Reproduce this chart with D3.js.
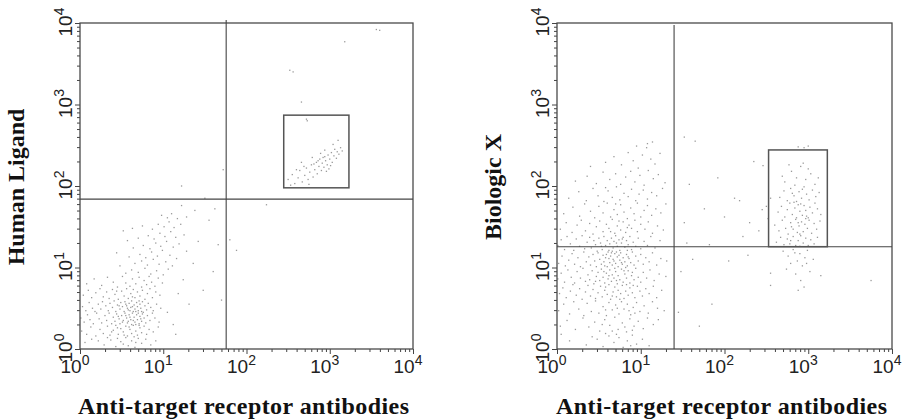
<!DOCTYPE html>
<html>
<head>
<meta charset="utf-8">
<script src="https://cdn.jsdelivr.net/npm/d3@7"></script>
<style>
  body { margin: 0; background: #fff; }
  svg { display: block; }
</style>
</head>
<body>
<svg width="907" height="420"></svg>
<script>
// events as [log10 x, log10 y]

var leftCluster = [
  [0.06,0.08],[0.14,0.12],[0.29,0.05],[0.37,0.11],[0.43,0.03],[0.49,0.09],[0.55,0.14],[0.58,0.04],[0.62,0.10],[0.66,0.02],
  [0.70,0.13],[0.74,0.07],[0.79,0.12],[0.85,0.05],[0.91,0.10],[0.52,0.06],[0.45,0.13],[0.67,0.08],[0.33,0.14],[0.22,0.10],
  [0.02,0.22],[0.08,0.18],[0.13,0.27],[0.19,0.16],[0.24,0.24],[0.28,0.19],[0.33,0.28],[0.36,0.17],[0.40,0.23],[0.43,0.29],
  [0.46,0.18],[0.49,0.25],[0.52,0.21],[0.55,0.28],[0.57,0.16],[0.60,0.24],[0.62,0.19],[0.64,0.29],[0.67,0.22],[0.69,0.17],
  [0.72,0.26],[0.74,0.20],[0.77,0.28],[0.80,0.18],[0.83,0.24],[0.88,0.21],[0.94,0.27],[0.59,0.27],[0.53,0.17],[0.45,0.26],
  [0.65,0.15],[0.71,0.29],[0.38,0.21],
  [0.01,0.38],[0.05,0.33],[0.09,0.42],[0.12,0.36],[0.16,0.31],[0.20,0.44],[0.23,0.37],[0.26,0.32],[0.30,0.41],[0.32,0.35],
  [0.35,0.44],[0.38,0.31],[0.40,0.39],[0.42,0.34],[0.44,0.43],[0.47,0.37],[0.48,0.31],[0.50,0.41],[0.52,0.35],[0.54,0.44],
  [0.56,0.38],[0.57,0.32],[0.59,0.42],[0.61,0.36],[0.62,0.30],[0.63,0.44],[0.65,0.39],[0.66,0.33],[0.68,0.42],[0.69,0.36],
  [0.71,0.31],[0.72,0.40],[0.74,0.34],[0.75,0.43],[0.77,0.38],[0.79,0.32],[0.81,0.41],[0.84,0.35],[0.87,0.44],[0.90,0.38],
  [0.95,0.33],[0.60,0.39],[0.64,0.35],[0.55,0.41],[0.70,0.44],[0.58,0.34],[0.67,0.30],[0.46,0.40],[0.73,0.37],[0.51,0.33],
  [0.03,0.52],[0.07,0.47],[0.11,0.57],[0.15,0.50],[0.18,0.46],[0.22,0.55],[0.25,0.49],[0.27,0.58],[0.31,0.53],[0.34,0.47],
  [0.36,0.56],[0.39,0.51],[0.41,0.59],[0.43,0.46],[0.45,0.54],[0.48,0.49],[0.49,0.57],[0.51,0.52],[0.53,0.46],[0.54,0.58],
  [0.56,0.53],[0.58,0.48],[0.59,0.56],[0.61,0.51],[0.62,0.59],[0.64,0.46],[0.65,0.54],[0.66,0.49],[0.68,0.57],[0.69,0.52],
  [0.70,0.47],[0.72,0.55],[0.73,0.50],[0.75,0.58],[0.76,0.45],[0.78,0.53],[0.80,0.48],[0.82,0.56],[0.85,0.51],[0.88,0.47],
  [0.92,0.55],[0.97,0.50],[0.63,0.52],[0.57,0.50],[0.67,0.46],[0.60,0.47],[0.71,0.59],[0.55,0.55],[0.74,0.46],[0.47,0.53],
  [0.04,0.66],[0.10,0.72],[0.14,0.63],[0.19,0.69],[0.24,0.74],[0.28,0.64],[0.32,0.70],[0.35,0.62],[0.39,0.73],[0.42,0.67],
  [0.46,0.61],[0.50,0.71],[0.53,0.65],[0.56,0.74],[0.58,0.62],[0.61,0.68],[0.64,0.73],[0.66,0.63],[0.69,0.70],[0.72,0.65],
  [0.75,0.72],[0.78,0.61],[0.81,0.68],[0.84,0.74],[0.87,0.63],[0.91,0.70],[0.96,0.66],[0.63,0.64],[0.44,0.71],
  [0.08,0.80],[0.17,0.86],[0.26,0.78],[0.33,0.88],[0.40,0.82],[0.45,0.76],[0.51,0.89],[0.55,0.81],[0.60,0.77],[0.63,0.86],
  [0.67,0.80],[0.71,0.88],[0.74,0.76],[0.77,0.84],[0.80,0.79],[0.83,0.89],[0.86,0.82],[0.90,0.77],[0.94,0.87],[0.99,0.81],
  [0.55,0.93],[0.62,0.97],[0.70,0.94],[0.78,0.99],[0.85,0.92],[0.92,0.96],[1.00,0.91],[1.06,0.98],[0.48,1.02],[0.66,1.05],
  [0.74,1.08],[0.81,1.03],[0.88,1.10],[0.95,1.04],[1.03,1.07],[1.11,1.02],[0.59,1.13],[0.72,1.16],[0.79,1.12],[0.86,1.19],
  [0.93,1.14],[0.99,1.21],[1.08,1.15],[1.16,1.11],[0.44,1.18],[0.64,1.24],[0.76,1.27],[0.84,1.23],[0.91,1.30],[0.97,1.26],
  [1.04,1.32],[1.12,1.25],[1.19,1.29],[0.57,1.33],[0.70,1.36],[0.82,1.39],[0.89,1.35],[0.96,1.42],[1.02,1.38],[1.09,1.44],
  [1.15,1.37],[0.52,1.45],[0.63,1.48],[0.87,1.47],[0.94,1.53],[1.01,1.50],[1.07,1.56],[1.13,1.49],[1.21,1.53],[1.05,1.61],
  [0.98,1.64],[1.10,1.66],[0.75,1.51],[1.17,1.60],[1.25,1.40],[1.28,1.20]
];

var leftGated = [
  [2.50,2.08],[2.55,2.14],[2.58,2.03],[2.62,2.10],[2.64,2.19],[2.67,2.05],[2.70,2.13],[2.72,2.22],[2.74,2.08],[2.76,2.17],
  [2.78,2.26],[2.80,2.11],[2.82,2.20],[2.84,2.29],[2.85,2.15],[2.87,2.24],[2.88,2.33],[2.90,2.19],[2.91,2.28],[2.93,2.23],
  [2.94,2.36],[2.95,2.31],[2.97,2.26],[2.98,2.38],[2.99,2.21],[3.00,2.33],[3.02,2.41],[3.03,2.29],[3.05,2.37],[3.06,2.45],
  [3.08,2.34],[3.09,2.42],[3.11,2.39],[3.13,2.47],[3.15,2.43],[2.86,2.31],[2.92,2.35],[2.96,2.18],[3.01,2.25],[2.81,2.27],
  [2.69,2.24],[2.60,2.20],[2.53,2.01],[3.04,2.51],[3.10,2.56],[2.89,2.40],[2.75,2.02],[2.66,2.29],[2.79,2.35],[2.94,2.44],
  [2.73,2.80]
];

var leftScatter = [
  [1.05,0.45],[1.12,0.30],[1.18,0.68],[1.24,0.85],[1.31,0.55],[1.36,1.05],[1.42,1.32],[1.48,0.72],[1.55,1.58],[1.60,0.95],
  [1.66,1.28],[1.38,1.70],[1.22,1.76],[1.70,0.60],[1.15,0.18],[1.28,1.62],[1.50,1.85],[1.62,1.72],
  [1.22,2.00],[1.72,2.20],[1.80,1.34],[1.88,1.21],[2.24,1.77],[2.52,3.42],[2.56,3.40],[2.66,3.03],[2.72,2.82],[3.18,3.77],
  [3.56,3.92],[3.60,3.91]
];

var rightCluster = [
  [0.35,0.05],[0.48,0.12],[0.55,0.03],[0.62,0.16],[0.68,0.08],[0.74,0.14],[0.79,0.02],[0.84,0.10],[0.90,0.17],[0.95,0.06],
  [1.02,0.12],[1.10,0.04],[0.58,0.19],[0.71,0.18],[0.88,0.04],[0.42,0.15],[0.15,0.10],[0.05,0.18],
  [0.04,0.28],[0.12,0.35],[0.22,0.24],[0.31,0.38],[0.38,0.27],[0.45,0.33],[0.51,0.22],[0.57,0.36],[0.63,0.29],[0.69,0.39],
  [0.73,0.24],[0.78,0.32],[0.83,0.21],[0.87,0.37],[0.92,0.28],[0.97,0.34],[1.03,0.25],[1.08,0.38],[1.15,0.30],[0.81,0.27],
  [0.66,0.22],[0.54,0.30],[0.90,0.23],[1.21,0.36],
  [0.02,0.47],[0.08,0.55],[0.15,0.43],[0.20,0.58],[0.26,0.49],[0.32,0.41],[0.36,0.56],[0.41,0.46],[0.46,0.59],[0.50,0.44],
  [0.55,0.52],[0.59,0.41],[0.62,0.57],[0.66,0.48],[0.70,0.54],[0.74,0.43],[0.77,0.58],[0.80,0.49],[0.84,0.55],[0.88,0.42],
  [0.91,0.51],[0.95,0.57],[0.99,0.46],[1.04,0.53],[1.09,0.44],[1.14,0.58],[1.20,0.50],[1.28,0.47],[0.72,0.50],[0.86,0.47],
  [0.93,0.44],[0.58,0.48],
  [0.03,0.68],[0.07,0.75],[0.11,0.63],[0.16,0.71],[0.19,0.79],[0.23,0.66],[0.27,0.74],[0.30,0.61],[0.34,0.70],[0.37,0.78],
  [0.40,0.65],[0.43,0.73],[0.46,0.62],[0.49,0.69],[0.52,0.77],[0.54,0.64],[0.57,0.72],[0.60,0.67],[0.62,0.79],[0.64,0.61],
  [0.67,0.70],[0.69,0.76],[0.71,0.64],[0.73,0.72],[0.76,0.68],[0.78,0.78],[0.80,0.62],[0.82,0.71],[0.85,0.66],[0.87,0.75],
  [0.90,0.69],[0.93,0.63],[0.96,0.77],[0.99,0.71],[1.02,0.65],[1.06,0.74],[1.10,0.68],[1.15,0.77],[1.19,0.63],[1.25,0.72],
  [0.58,0.76],[0.75,0.61],[0.83,0.79],[0.66,0.65],[0.91,0.78],
  [0.01,0.86],[0.05,0.93],[0.09,0.82],[0.13,0.97],[0.17,0.88],[0.21,0.81],[0.24,0.95],[0.28,0.87],[0.31,0.99],[0.34,0.83],
  [0.37,0.91],[0.39,0.85],[0.42,0.96],[0.44,0.80],[0.47,0.89],[0.49,0.94],[0.51,0.84],[0.53,0.98],[0.55,0.88],[0.57,0.81],
  [0.59,0.93],[0.61,0.86],[0.63,0.97],[0.65,0.83],[0.66,0.91],[0.68,0.87],[0.70,0.95],[0.72,0.80],[0.73,0.90],[0.75,0.85],
  [0.77,0.98],[0.79,0.82],[0.81,0.92],[0.83,0.87],[0.85,0.96],[0.87,0.81],[0.89,0.90],[0.92,0.85],[0.94,0.99],[0.97,0.88],
  [1.00,0.82],[1.03,0.94],[1.07,0.87],[1.11,0.97],[1.16,0.84],[1.22,0.92],[1.30,0.89],[0.62,0.90],[0.71,0.84],[0.80,0.96],
  [0.56,0.95],[0.46,0.83],[0.90,0.94],[0.69,0.99],
  [0.02,1.05],[0.06,1.14],[0.10,1.02],[0.14,1.09],[0.18,1.17],[0.21,1.04],[0.25,1.12],[0.28,1.01],[0.32,1.19],[0.35,1.07],
  [0.38,1.13],[0.40,1.03],[0.43,1.16],[0.45,1.08],[0.47,1.01],[0.49,1.18],[0.51,1.10],[0.53,1.04],[0.55,1.15],[0.56,1.07],
  [0.58,1.12],[0.60,1.01],[0.61,1.19],[0.63,1.06],[0.64,1.14],[0.66,1.03],[0.67,1.10],[0.69,1.17],[0.70,1.05],[0.72,1.13],
  [0.73,1.01],[0.75,1.09],[0.76,1.18],[0.78,1.04],[0.79,1.12],[0.81,1.07],[0.83,1.16],[0.84,1.02],[0.86,1.11],[0.88,1.06],
  [0.90,1.19],[0.92,1.03],[0.94,1.14],[0.97,1.08],[1.00,1.16],[1.03,1.04],[1.06,1.12],[1.10,1.07],[1.14,1.18],[1.19,1.03],
  [1.24,1.11],[1.31,1.08],[0.65,1.18],[0.74,1.15],[0.57,1.02],[0.82,1.00],[0.68,1.08],[0.62,1.11],[0.77,1.06],[0.71,1.19],
  [0.59,1.16],[0.85,1.13],
  [0.01,1.27],[0.05,1.34],[0.09,1.22],[0.12,1.38],[0.16,1.29],[0.20,1.21],[0.23,1.35],[0.27,1.26],[0.30,1.39],[0.33,1.23],
  [0.36,1.31],[0.39,1.37],[0.41,1.24],[0.44,1.33],[0.46,1.28],[0.48,1.20],[0.50,1.36],[0.52,1.30],[0.54,1.22],[0.56,1.38],
  [0.58,1.27],[0.60,1.33],[0.62,1.21],[0.63,1.29],[0.65,1.36],[0.67,1.24],[0.68,1.32],[0.70,1.39],[0.72,1.26],[0.74,1.34],
  [0.75,1.21],[0.77,1.30],[0.79,1.37],[0.81,1.25],[0.83,1.33],[0.85,1.28],[0.87,1.38],[0.89,1.22],[0.91,1.31],[0.94,1.26],
  [0.97,1.36],[1.00,1.23],[1.04,1.32],[1.08,1.27],[1.12,1.38],[1.17,1.24],[1.23,1.33],[0.71,1.30],[0.66,1.20],[0.78,1.35],
  [0.53,1.26],[0.84,1.21],
  [0.04,1.47],[0.11,1.55],[0.18,1.43],[0.24,1.52],[0.29,1.58],[0.34,1.45],[0.39,1.54],[0.43,1.41],[0.47,1.50],[0.51,1.57],
  [0.55,1.44],[0.59,1.53],[0.62,1.48],[0.66,1.59],[0.69,1.42],[0.72,1.51],[0.76,1.46],[0.79,1.56],[0.82,1.43],[0.86,1.52],
  [0.89,1.48],[0.93,1.58],[0.96,1.44],[1.00,1.53],[1.05,1.47],[1.09,1.56],[1.14,1.42],[1.20,1.51],[1.27,1.46],[0.64,1.44],
  [0.74,1.57],[0.84,1.49],
  [0.08,1.66],[0.19,1.74],[0.27,1.63],[0.33,1.78],[0.40,1.69],[0.45,1.61],[0.50,1.75],[0.55,1.67],[0.60,1.79],[0.64,1.62],
  [0.68,1.71],[0.72,1.65],[0.76,1.77],[0.80,1.68],[0.84,1.60],[0.88,1.73],[0.92,1.66],[0.96,1.79],[1.00,1.62],[1.04,1.70],
  [1.08,1.76],[1.13,1.64],[1.18,1.72],[1.24,1.67],[1.30,1.78],[0.70,1.78],
  [0.14,1.85],[0.26,1.93],[0.35,1.82],[0.43,1.97],[0.49,1.88],[0.56,1.81],[0.61,1.94],[0.66,1.86],[0.71,1.99],[0.75,1.83],
  [0.80,1.91],[0.85,1.87],[0.89,1.96],[0.94,1.82],[0.98,1.90],[1.03,1.95],[1.08,1.84],[1.13,1.92],[1.19,1.88],[1.26,1.97],
  [0.58,1.98],
  [0.22,2.06],[0.36,2.12],[0.47,2.03],[0.55,2.17],[0.63,2.08],[0.70,2.15],[0.76,2.02],[0.82,2.11],[0.88,2.18],[0.93,2.05],
  [0.99,2.13],[1.04,2.01],[1.09,2.19],[1.15,2.09],[1.21,2.14],[1.29,2.04],
  [0.40,2.24],[0.58,2.29],[0.68,2.36],[0.77,2.26],[0.85,2.41],[0.91,2.31],[0.97,2.22],[1.02,2.38],[1.07,2.47],[1.12,2.33],
  [1.17,2.27],[1.23,2.40],[1.08,2.52],[0.95,2.49],[1.14,2.54]
];

var rightGated = [
  [2.72,2.05],[2.80,2.18],[2.86,2.10],[2.91,2.24],[2.97,2.08],[3.03,2.15],[3.08,2.02],[2.77,2.26],[2.94,2.28],[3.00,2.21],
  [2.84,2.01],[2.69,2.12],[3.12,2.10],
  [2.66,1.86],[2.71,1.94],[2.75,1.82],[2.79,1.97],[2.83,1.88],[2.86,1.81],[2.89,1.93],[2.92,1.85],[2.95,1.99],[2.98,1.90],
  [3.01,1.83],[3.05,1.95],[3.09,1.87],[3.13,1.92],[2.81,1.91],[2.93,1.96],
  [2.64,1.68],[2.68,1.75],[2.72,1.62],[2.75,1.71],[2.78,1.79],[2.81,1.65],[2.84,1.73],[2.86,1.61],[2.88,1.77],[2.90,1.69],
  [2.93,1.64],[2.95,1.76],[2.97,1.70],[3.00,1.61],[3.02,1.74],[3.05,1.67],[3.08,1.79],[3.11,1.72],[3.15,1.65],[2.91,1.78],
  [2.83,1.80],[2.98,1.63],
  [2.60,1.52],[2.65,1.45],[2.69,1.58],[2.73,1.48],[2.76,1.41],[2.79,1.55],[2.82,1.47],[2.85,1.59],[2.87,1.43],[2.89,1.51],
  [2.92,1.56],[2.94,1.44],[2.96,1.53],[2.99,1.48],[3.01,1.58],[3.04,1.42],[3.07,1.54],[3.10,1.47],[3.14,1.57],[2.90,1.41],
  [2.97,1.60],[2.80,1.50],[2.88,1.55],
  [2.62,1.31],[2.67,1.37],[2.71,1.28],[2.75,1.35],[2.78,1.29],[2.82,1.38],[2.85,1.27],[2.88,1.33],[2.91,1.39],[2.94,1.30],
  [2.97,1.36],[3.00,1.27],[3.03,1.34],[3.07,1.29],[3.11,1.37],[2.90,1.26],[2.79,1.33],
  [2.70,1.20],[2.76,1.14],[2.82,1.22],[2.87,1.08],[2.90,1.17],[2.93,1.02],[2.96,1.12],[2.99,1.21],[3.02,0.95],[2.85,0.92],
  [2.79,1.05],[2.91,0.84],[2.95,0.76],[3.06,1.10],[2.74,0.98],[2.88,0.72],[2.55,0.93],[3.15,0.90],[2.98,1.05],[2.84,1.18],
  [2.88,2.48],[2.95,2.47],[3.00,2.49],[2.55,1.85],[2.50,1.75],[2.46,2.25]
];

var rightScatter = [
  [1.48,0.95],[1.52,1.55],[1.58,2.02],[1.62,1.10],[1.70,0.28],[1.76,1.72],[1.85,0.55],[1.92,2.10],[2.00,1.62],[2.05,1.08],
  [2.12,1.85],[2.22,1.38],[2.30,1.55],[2.35,2.30],[2.41,1.45],[2.45,1.71],[2.52,1.60],[1.55,1.30],[1.65,2.55],[1.45,0.45],
  [2.28,1.15],[2.18,1.82],[1.82,1.28],[2.55,0.78],[3.75,0.84],[1.52,2.60]
];

// quadrant markers [x, y] and gate boxes [x0, x1, y0, y1], in channel units
var leftQuadrant = [57, 69];
var leftGate = [280, 1700, 95, 740];
var rightQuadrant = [25, 18];
var rightGate = [336, 1690, 18, 277];

var decades = [0, 1, 2, 3, 4];
var xTitle = "Anti-target receptor antibodies";
var yTitles = ["Human Ligand", "Biologic X"];

var svg = d3.select("svg");

var panels = [
  { left: 80, right: 413, top: 23, bottom: 349, lineTop: 20,
    points: leftCluster.concat(leftScatter, leftGated),
    quad: leftQuadrant, gate: leftGate, yTitle: yTitles[0] },
  { left: 557, right: 892, top: 23, bottom: 349, lineTop: 25,
    points: rightCluster.concat(rightScatter, rightGated),
    quad: rightQuadrant, gate: rightGate, yTitle: yTitles[1] }
];

var allTicks = [];
for (var e = 0; e < 4; e++) for (var k = 1; k < 10; k++) allTicks.push(k * Math.pow(10, e));
allTicks.push(1e4);

function isMajor(d) {
  var l = Math.log10(d);
  return Math.abs(l - Math.round(l)) < 1e-9;
}

panels.forEach(function(p) {
  var x = d3.scaleLog().domain([1, 1e4]).range([p.left, p.right]),
      y = d3.scaleLog().domain([1, 1e4]).range([p.bottom, p.top]);
  var g = svg.append("g");

  // events
  g.append("g").selectAll("rect")
    .data(p.points)
    .enter().append("rect")
    .attr("x", function(d) { return x(Math.pow(10, d[0])) - 0.65; })
    .attr("y", function(d) { return y(Math.pow(10, d[1])) - 0.65; })
    .attr("width", 1.3)
    .attr("height", 1.3)
    .attr("fill", "#9a9a9a");

  // axes, ticks only
  var xAxis = d3.axisBottom(x).tickValues(allTicks).tickFormat("").tickSizeOuter(0);
  var yAxis = d3.axisLeft(y).tickValues(allTicks).tickFormat("").tickSizeOuter(0);

  var ax = g.append("g").attr("transform", "translate(0," + p.bottom + ")").call(xAxis);
  ax.select(".domain").remove();
  ax.selectAll(".tick line").attr("y2", function(d) { return isMajor(d) ? 5 : 3; }).attr("stroke", "#444");

  var ay = g.append("g").attr("transform", "translate(" + p.left + ",0)").call(yAxis);
  ay.select(".domain").remove();
  ay.selectAll(".tick line").attr("x2", function(d) { return isMajor(d) ? -5 : -3; }).attr("stroke", "#444");

  // frame
  g.append("rect")
    .attr("x", p.left).attr("y", p.top)
    .attr("width", p.right - p.left).attr("height", p.bottom - p.top)
    .attr("fill", "none").attr("stroke", "#4a4a4a").attr("stroke-width", 1.3);

  // quadrant lines
  g.append("line")
    .attr("x1", x(p.quad[0])).attr("x2", x(p.quad[0]))
    .attr("y1", p.lineTop).attr("y2", p.bottom)
    .attr("stroke", "#444").attr("stroke-width", 1.1);
  g.append("line")
    .attr("x1", p.left).attr("x2", p.right)
    .attr("y1", y(p.quad[1])).attr("y2", y(p.quad[1]))
    .attr("stroke", "#444").attr("stroke-width", 1.1);

  // gate
  g.append("rect")
    .attr("x", x(p.gate[0])).attr("y", y(p.gate[3]))
    .attr("width", x(p.gate[1]) - x(p.gate[0]))
    .attr("height", y(p.gate[2]) - y(p.gate[3]))
    .attr("fill", "none").attr("stroke", "#555").attr("stroke-width", 1.5);

  // tick labels 10^n
  decades.forEach(function(n) {
    var tx = g.append("text")
      .attr("x", x(Math.pow(10, n)) - 5)
      .attr("y", p.bottom + 24)
      .attr("text-anchor", "middle")
      .style("font-family", "'Liberation Sans', Arial, sans-serif")
      .style("font-size", "19px")
      .attr("fill", "#222");
    tx.append("tspan").text("10");
    tx.append("tspan").attr("dy", -8).style("font-size", "14px").text(n);

    var ty = g.append("text")
      .attr("transform", "translate(" + (p.left - 8) + "," + y(Math.pow(10, n)) + ") rotate(-90)")
      .attr("x", 1)
      .attr("text-anchor", "middle")
      .style("font-family", "'Liberation Sans', Arial, sans-serif")
      .style("font-size", "19px")
      .attr("fill", "#222");
    ty.append("tspan").text("10");
    ty.append("tspan").attr("dy", -8).style("font-size", "14px").text(n);
  });

  // titles
  g.append("text")
    .attr("x", (p.left + p.right) / 2 - 3)
    .attr("y", 414)
    .attr("text-anchor", "middle")
    .attr("textLength", 331)
    .attr("lengthAdjust", "spacing")
    .style("font-family", "'Liberation Serif', 'Times New Roman', serif")
    .style("font-weight", "bold")
    .style("font-size", "24px")
    .attr("fill", "#111")
    .text(xTitle);

  g.append("text")
    .attr("transform", "translate(" + (p.left - 56) + ",187) rotate(-90)")
    .attr("text-anchor", "middle")
    .style("font-family", "'Liberation Serif', 'Times New Roman', serif")
    .style("font-weight", "bold")
    .style("font-size", "24px")
    .attr("fill", "#111")
    .text(p.yTitle);
});
</script>
</body>
</html>
